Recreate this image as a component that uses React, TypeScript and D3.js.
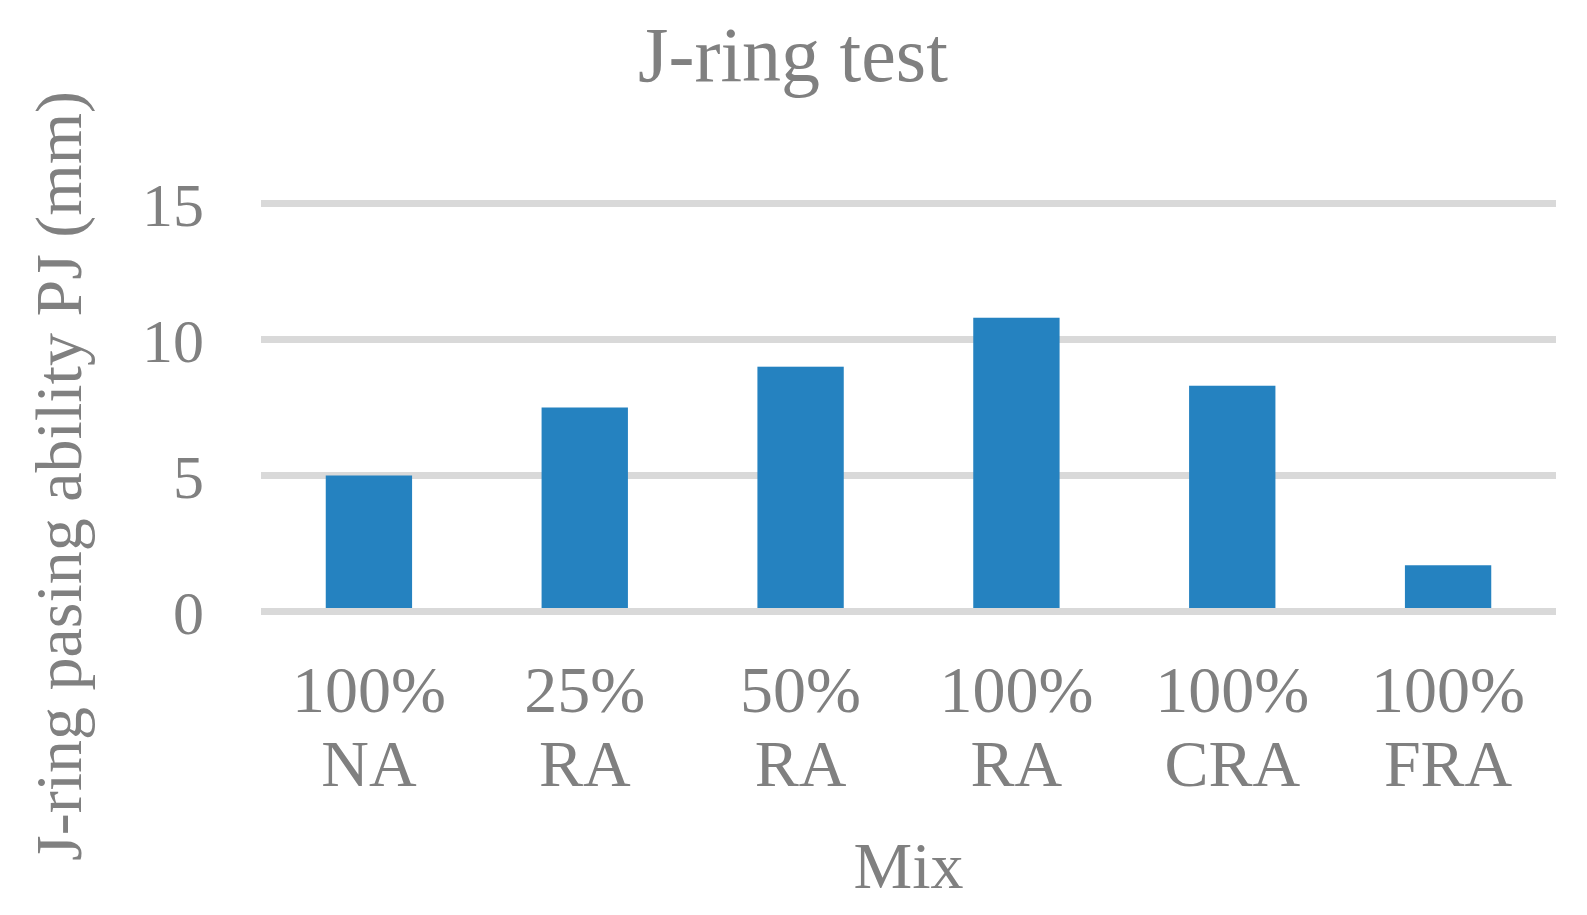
import React from "react";
import * as d3 from "d3";

const categories: string[][] = [
  ["100%", "NA"],
  ["25%", "RA"],
  ["50%", "RA"],
  ["100%", "RA"],
  ["100%", "CRA"],
  ["100%", "FRA"],
];
const values: number[] = [5.0, 7.5, 9.0, 10.8, 8.3, 1.7];
const yTicks: number[] = [0, 5, 10, 15];

const W = 1587;
const H = 915;
const plot = { left: 261, right: 1556, top: 203.5, bottom: 611.5 };
const textColor = "#808080";
const barColor = "#2582C0";
const gridColor = "#D9D9D9";
const font = "'Liberation Serif', 'Times New Roman', serif";

export default function App() {
  const x = d3
    .scaleBand<number>()
    .domain(categories.map((_, i) => i))
    .range([plot.left, plot.right])
    .paddingInner(0.6)
    .paddingOuter(0.3);
  const y = d3.scaleLinear().domain([0, 15]).range([plot.bottom, plot.top]);

  return (
    <svg
      width={W}
      height={H}
      style={{ position: "absolute", left: 0, top: 0, display: "block", background: "#fff" }}
    >
      <text x={793} y={81} textAnchor="middle" fontFamily={font} fontSize={78} fill={textColor}>
        J-ring test
      </text>
      {yTicks.filter((t) => t !== 0).map((t) => (
        <line key={t} x1={plot.left} x2={plot.right} y1={y(t)} y2={y(t)} stroke={gridColor} strokeWidth={7} />
      ))}
      {values.map((v, i) => (
        <rect
          key={i}
          x={x(i)}
          width={x.bandwidth()}
          y={y(v)}
          height={y(0) - y(v)}
          fill={barColor}
        />
      ))}
      <line x1={plot.left} x2={plot.right} y1={y(0)} y2={y(0)} stroke={gridColor} strokeWidth={7} />
      {yTicks.map((t) => (
        <text key={t} x={204} y={y(t)} dy="0.36em" textAnchor="end" fontFamily={font} fontSize={62} fill={textColor}>
          {t}
        </text>
      ))}
      {categories.map((c, i) => (
        <text key={i} textAnchor="middle" fontFamily={font} fontSize={66} fill={textColor}>
          {c.map((line, j) => (
            <tspan key={j} x={(x(i) as number) + x.bandwidth() / 2} y={712 + j * 74}>
              {line}
            </tspan>
          ))}
        </text>
      ))}
      <text x={(plot.left + plot.right) / 2} y={888} textAnchor="middle" fontFamily={font} fontSize={66} fill={textColor}>
        Mix
      </text>
      <text
        transform={`translate(81,476) rotate(-90)`}
        textAnchor="middle"
        fontFamily={font}
        fontSize={66}
        fill={textColor}
      >
        J-ring pasing ability PJ (mm)
      </text>
    </svg>
  );
}
